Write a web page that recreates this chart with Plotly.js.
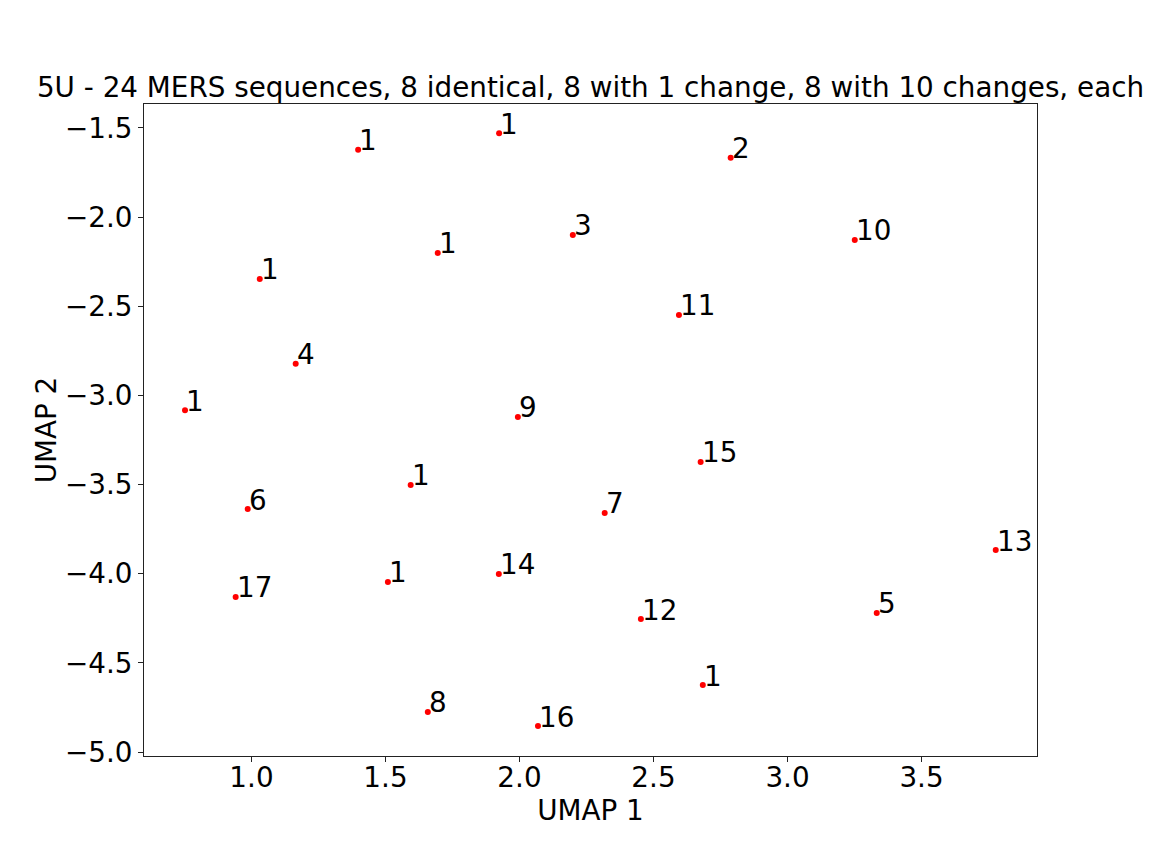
<!DOCTYPE html>
<html>
<head>
<meta charset="utf-8">
<script src="https://cdn.plot.ly/plotly-3.0.1.min.js"></script>
<style>html,body{margin:0;padding:0;background:#fff;}#chart{width:1152px;height:864px;}</style>
</head>
<body>
<div id="chart"></div>
<script>
const umap1 = [1.398, 1.924, 2.788, 2.199, 3.251, 1.695, 1.031, 2.595, 1.165, 0.752, 1.994, 2.676,
               1.594, 0.986, 2.318, 3.777, 1.923, 1.509, 0.941, 3.333, 2.453, 2.684, 1.658, 2.069];
const umap2 = [-1.623, -1.530, -1.668, -2.100, -2.128, -2.201, -2.347, -2.549, -2.823, -3.083, -3.121, -3.373,
               -3.502, -3.637, -3.659, -3.867, -4.001, -4.046, -4.130, -4.220, -4.254, -4.624, -4.775, -4.854];
const counts = ["1", "1", "2", "3", "10", "1", "1", "11", "4", "1", "9", "15",
                "1", "6", "7", "13", "14", "1", "17", "5", "12", "1", "8", "16"];

const FONT = "DejaVu Sans, sans-serif";
const FS = 27.8;

const trace = {
  x: umap1, y: umap2, type: "scatter", mode: "markers",
  marker: {color: "red", size: 6},
  hoverinfo: "skip", showlegend: false
};

const annotations = counts.map((t, i) => ({
  x: umap1[i], y: umap2[i], xref: "x", yref: "y", text: t, showarrow: false,
  xanchor: "left", yanchor: "bottom", xshift: -1, yshift: -9.5,
  font: {family: FONT, size: FS, color: "black"}
}));

const layout = {
  width: 1152, height: 864,
  paper_bgcolor: "white", plot_bgcolor: "white",
  margin: {l: 144.3, r: 114.7, t: 104, b: 108, pad: 0},
  font: {family: FONT, size: FS, color: "black"},
  title: {text: "5U - 24 MERS sequences, 8 identical, 8 with 1 change, 8 with 10 changes, each",
          font: {family: FONT, size: FS, color: "black"},
          xref: "paper", x: 0.5, xanchor: "center",
          yref: "container", y: 0.888, yanchor: "bottom"},
  xaxis: {range: [0.599, 3.931], tick0: 0, dtick: 0.5, tickformat: ".1f",
          showgrid: false, zeroline: false, showline: true, mirror: true,
          linecolor: "#222", linewidth: 1, ticks: "outside", ticklen: 5, tickcolor: "#222",
          ticklabelstandoff: -8,
          tickfont: {family: FONT, size: FS, color: "black"},
          title: {text: "UMAP 1", font: {family: FONT, size: FS, color: "black"}, standoff: 0}},
  yaxis: {range: [-5.022, -1.366], tick0: 0, dtick: 0.5, tickformat: ".1f",
          showgrid: false, zeroline: false, showline: true, mirror: true,
          linecolor: "#222", linewidth: 1, ticks: "outside", ticklen: 5, tickcolor: "#222",
          tickfont: {family: FONT, size: FS, color: "black"},
          title: {text: "UMAP 2", font: {family: FONT, size: FS, color: "black"}, standoff: 0}},
  annotations: annotations
};

Plotly.newPlot("chart", [trace], layout, {staticPlot: true, displayModeBar: false});
</script>
</body>
</html>
